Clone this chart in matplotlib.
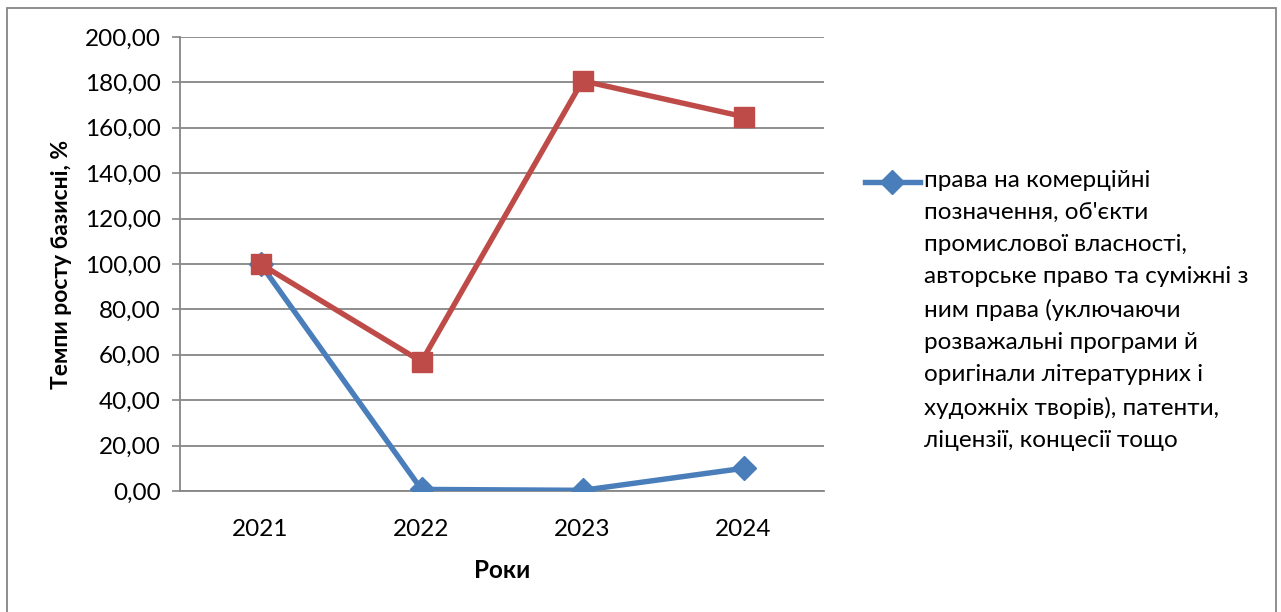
import matplotlib
matplotlib.use("Agg")
import matplotlib.pyplot as plt
from matplotlib.lines import Line2D
from matplotlib.patches import Rectangle

# ---- data ----
years = ["2021", "2022", "2023", "2024"]
ip_rights = [100.0, 0.7, 0.3, 10.0]
other_series = [100.0, 57.0, 180.7, 164.9]
y_ticks = [0, 20, 40, 60, 80, 100, 120, 140, 160, 180, 200]
legend_label = ("права на комерційні\nпозначення, об'єкти\nпромислової власності,\n"
                "авторське право та суміжні з\nним права (уключаючи\n"
                "розважальні програми й\nоригінали літературних і\n"
                "художніх творів), патенти,\nліцензії, концесії тощо")

W, H = 1281, 612
plt.rcParams["font.family"] = ["Lato", "DejaVu Sans"]
FS = 17.5

fig = plt.figure(figsize=(W / 100, H / 100), dpi=100)
ax = fig.add_axes([180 / W, 1 - 491 / H, (824 - 180) / W, (491 - 37) / H])

x = list(range(len(years)))
ax.plot(x, ip_rights, color="#4A7EBB", lw=3.9, marker="D", ms=12,
        markeredgecolor="#4A7EBB", zorder=3)
ax.plot(x, other_series, color="#BE4B48", lw=3.9, marker="s", ms=14.5,
        markeredgecolor="#BE4B48", zorder=3)

ax.set_xlim(-0.5, len(years) - 0.5)
ax.set_ylim(0, 200)
ax.set_yticks(y_ticks)
ax.set_yticklabels([("%.2f" % v).replace(".", ",") for v in y_ticks], fontsize=FS)
ax.set_xticks(x)
ax.set_xticklabels(years, fontsize=FS)
ax.tick_params(axis="x", length=0, pad=20)
ax.tick_params(axis="y", length=6, width=1.2, color="#868686", pad=8)

ax.grid(axis="y", color="#868686", lw=1.3)
ax.set_axisbelow(True)
for side in ["top", "right"]:
    ax.spines[side].set_visible(False)
for side in ["left", "bottom"]:
    ax.spines[side].set_color("#868686")
    ax.spines[side].set_linewidth(1.3)

ax.set_xlabel("Роки", fontsize=FS, fontweight="bold", labelpad=14)
ax.set_ylabel("Темпи росту базисні, %", fontsize=16.5, fontweight="bold", labelpad=9)

# ---- legend (only the first series is listed) ----
fig.add_artist(Line2D([865 / W, 920 / W], [1 - 182 / H, 1 - 182 / H],
                      color="#4A7EBB", lw=3.9, transform=fig.transFigure))
fig.add_artist(Line2D([892 / W], [1 - 182 / H], color="#4A7EBB", marker="D",
                      ms=12, transform=fig.transFigure))
fig.text(924 / W, 1 - 170 / H, legend_label, fontsize=FS, va="top",
         ha="left", linespacing=1.65)

# ---- chart area frame ----
fig.add_artist(Rectangle((7 / W, -0.05), (1276 - 7) / W, 1 - 8 / H + 0.05,
                         transform=fig.transFigure, fill=False,
                         edgecolor="#868686", lw=1.3))

fig.savefig("out.png", dpi=100)
